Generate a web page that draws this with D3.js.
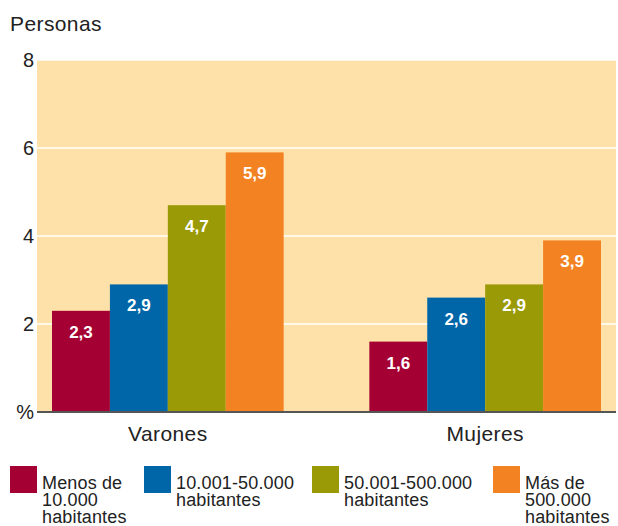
<!DOCTYPE html>
<html><head><meta charset="utf-8">
<script src="https://cdn.jsdelivr.net/npm/d3@7"></script>
<style>body{margin:0;background:#fff;} svg{display:block;font-family:"Liberation Sans",Arial,sans-serif;}</style>
</head><body>
<svg id="c" width="618" height="526"></svg>
<script>
const groups = ["Varones", "Mujeres"];
const seriesNames = ["Menos de 10.000 habitantes", "10.001-50.000 habitantes", "50.001-500.000 habitantes", "Más de 500.000 habitantes"];
const legendLines = [["Menos de", "10.000", "habitantes"], ["10.001-50.000", "habitantes"], ["50.001-500.000", "habitantes"], ["Más de", "500.000", "habitantes"]];
const varones = [2.3, 2.9, 4.7, 5.9];
const mujeres = [1.6, 2.6, 2.9, 3.9];
const yTicks = [0, 2, 4, 6, 8];
const yTickLabels = ["%", "2", "4", "6", "8"];
const colors = ["#A50034", "#0066A8", "#9A9906", "#F28222"];

const svg = d3.select("#c");
const plot = {left: 37, right: 616, top: 60, bottom: 412};
const y = d3.scaleLinear().domain([0, 8]).range([plot.bottom, plot.top]);
const x0 = d3.scaleBand().domain(groups).range([52, 601]).paddingInner(0.27).paddingOuter(0);
const x1 = d3.scaleBand().domain(seriesNames).range([0, x0.bandwidth()]).padding(0);

svg.append("rect").attr("x", plot.left).attr("y", plot.top)
  .attr("width", plot.right - plot.left).attr("height", plot.bottom - plot.top).attr("fill", "#FEE1A8");

// gridlines
svg.append("g").selectAll("line").data(yTicks.filter(d => d > 0)).join("line")
  .attr("x1", plot.left).attr("x2", plot.right)
  .attr("y1", d => y(d)).attr("y2", d => y(d))
  .attr("stroke", "#fff").attr("stroke-width", 1.5);

// y axis labels
const yAxis = d3.axisLeft(y).tickValues(yTicks).tickSize(0).tickPadding(3)
  .tickFormat((d, i) => yTickLabels[i]);
const ya = svg.append("g").attr("transform", `translate(${plot.left},0)`).call(yAxis);
ya.select(".domain").remove();
ya.selectAll("text").attr("font-size", 20).attr("fill", "#222").attr("font-family", "Liberation Sans, Arial, sans-serif");

const data = groups.map((g, gi) => ({group: g, values: (gi === 0 ? varones : mujeres)}));

const gg = svg.append("g").selectAll("g").data(data).join("g")
  .attr("transform", d => `translate(${x0(d.group)},0)`);

gg.selectAll("rect").data(d => d.values.map((v, i) => ({v, i}))).join("rect")
  .attr("x", d => x1(seriesNames[d.i]))
  .attr("width", x1.bandwidth())
  .attr("y", d => y(d.v))
  .attr("height", d => y(0) - y(d.v))
  .attr("fill", d => colors[d.i]);

gg.selectAll("text").data(d => d.values.map((v, i) => ({v, i}))).join("text")
  .attr("x", d => x1(seriesNames[d.i]) + x1.bandwidth() / 2)
  .attr("y", d => y(d.v) + 27)
  .attr("text-anchor", "middle")
  .attr("font-size", 17).attr("font-weight", "bold").attr("fill", "#fff")
  .text(d => d3.format(".1f")(d.v).replace(".", ","));

// baseline
svg.append("line").attr("x1", plot.left).attr("x2", plot.right)
  .attr("y1", y(0)).attr("y2", y(0)).attr("stroke", "#555").attr("stroke-width", 2);

// x axis labels
const xAxis = d3.axisBottom(x0).tickSize(0).tickPadding(14);
const xa = svg.append("g").attr("transform", `translate(0,${plot.bottom})`).call(xAxis);
xa.select(".domain").remove();
xa.selectAll("text").attr("font-size", 21).attr("letter-spacing", 0.4).attr("fill", "#222").attr("font-family", "Liberation Sans, Arial, sans-serif");

// title
svg.append("text").attr("x", 10).attr("y", 31).attr("font-size", 21).attr("letter-spacing", 0.4).attr("fill", "#222").text("Personas");

// legend
const legX = [10, 144, 312, 493];
const lg = svg.append("g").selectAll("g").data(seriesNames).join("g")
  .attr("transform", (d, i) => `translate(${legX[i]},466)`);
lg.append("rect").attr("width", 27).attr("height", 27).attr("fill", (d, i) => colors[i]);
lg.append("text").attr("x", 32).attr("y", 23).attr("font-size", 18).attr("letter-spacing", 0.15).attr("fill", "#222")
  .selectAll("tspan").data((d, i) => legendLines[i]).join("tspan")
  .attr("x", 32).attr("dy", (d, j) => j === 0 ? 0 : 17).text(d => d);
</script>
</body></html>
